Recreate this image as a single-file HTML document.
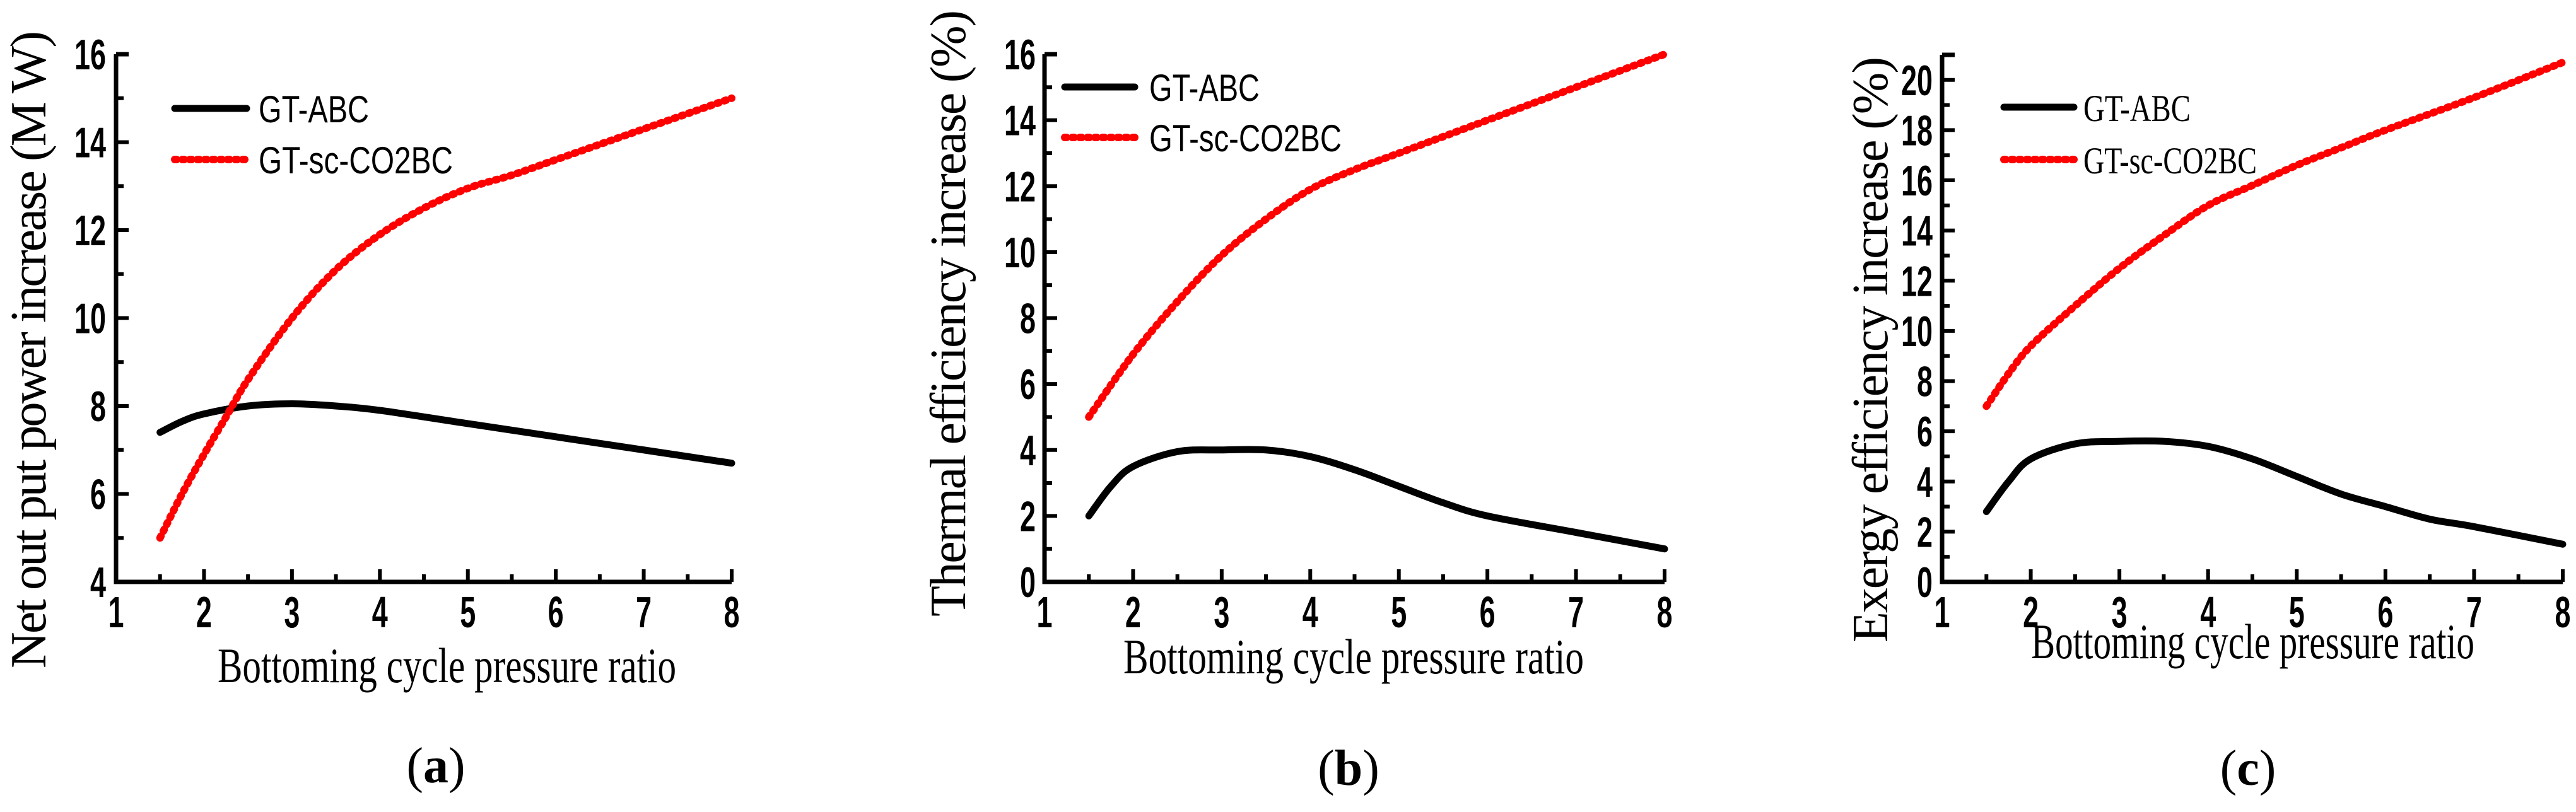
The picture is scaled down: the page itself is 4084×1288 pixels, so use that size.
<!DOCTYPE html>
<html><head><meta charset="utf-8"><style>
html,body{margin:0;padding:0;background:#fff;}
svg{display:block;}
</style></head><body>
<svg id="fig" width="4084" height="1288" viewBox="0 0 4084 1288" xmlns="http://www.w3.org/2000/svg"></svg>
<script>
// shared x data
const xA_abc = [1.5,1.75,2,2.5,3,3.5,4,5,6,7,8];
const yA_abc = [7.4,7.65,7.82,8.0,8.05,8.0,7.9,7.6,7.3,7.0,6.7];
const xA_co2 = [1.5,1.75,2,2.25,2.5,3,3.5,4,4.5,5,5.5,6,7,8];
const yA_co2 = [5.0,6.0,6.9,7.75,8.6,10.0,11.1,11.9,12.5,12.95,13.25,13.6,14.3,15.0];

const xB_abc = [1.5,1.75,2,2.5,3,3.5,4,4.5,5,5.5,6,7,8];
const yB_abc = [2.0,2.9,3.5,3.95,4.0,4.0,3.8,3.4,2.9,2.4,2.0,1.5,1.0];
const xB_co2 = [1.5,2,2.5,3,3.5,4,4.5,5,6,7,8];
const yB_co2 = [5.0,6.9,8.5,9.9,11.0,11.9,12.5,13.0,14.0,15.0,16.0];

const xC_abc = [1.5,1.75,2,2.5,3,3.5,4,4.5,5,5.5,6,6.5,7,8];
const yC_abc = [2.8,4.0,4.9,5.5,5.6,5.6,5.4,4.9,4.2,3.5,3.0,2.5,2.2,1.5];
const xC_co2 = [1.5,1.75,2,2.5,3,3.5,4,4.5,5,5.5,6,7,8];
const yC_co2 = [7.0,8.3,9.4,11.0,12.5,13.8,15.0,15.8,16.6,17.3,18.0,19.3,20.7];

const xTicks = [1,2,3,4,5,6,7,8];
const yTicksA = [4,6,8,10,12,14,16];
const yTicksB = [0,2,4,6,8,10,12,14,16];
const yTicksC = [0,2,4,6,8,10,12,14,16,18,20];

const NS = "http://www.w3.org/2000/svg";
const svg = document.getElementById('fig');
function mk(tag, attrs, parent){
  const e = document.createElementNS(NS, tag);
  for (const k in attrs) e.setAttribute(k, attrs[k]);
  (parent||svg).appendChild(e);
  return e;
}
function smoothPath(pts){
  let d = 'M'+pts[0][0]+','+pts[0][1];
  for (let i=0;i<pts.length-1;i++){
    const p0=pts[Math.max(0,i-1)], p1=pts[i], p2=pts[i+1], p3=pts[Math.min(pts.length-1,i+2)];
    const c1=[p1[0]+(p2[0]-p0[0])/6, p1[1]+(p2[1]-p0[1])/6];
    const c2=[p2[0]-(p3[0]-p1[0])/6, p2[1]-(p3[1]-p1[1])/6];
    d += ' C'+c1[0]+','+c1[1]+' '+c2[0]+','+c2[1]+' '+p2[0]+','+p2[1];
  }
  return d;
}

const panels = [
 {id:'a', x0:184, x1:1160, yBase:923, yMin:4, yMax:16, yTop:86, yTicks:yTicksA, labelRight:168,
  ytitle:'Net out put power increase (M W)', ytx:45, ytyA:49, ytyB:1060,
  xtitleX1:345, xtitleX2:1072, xtitleY:1082,
  legX1:272, legX2:396, legY1:172, legY2:253, legTx:410, legW1:175, legW2:308, legSerif:false,
  cap:'a', capX:691, capY:1241,
  series:[[xA_abc,yA_abc],[xA_co2,yA_co2]]},
 {id:'b', x0:1656, x1:2639, yBase:923, yMin:0, yMax:16, yTop:86, yTicks:yTicksB, labelRight:1642,
  ytitle:'Thermal efficiency increase (%)', ytx:1503, ytyA:16, ytyB:978,
  xtitleX1:1781, xtitleX2:2511, xtitleY:1068,
  legX1:1683, legX2:1804, legY1:138, legY2:218, legTx:1822, legW1:175, legW2:305, legSerif:false,
  cap:'b', capX:2138, capY:1245,
  series:[[xB_abc,yB_abc],[xB_co2,yB_co2]]},
 {id:'c', x0:3079, x1:4063, yBase:923, yMin:0, yMax:21, yTop:87, yTicks:yTicksC, labelRight:3064,
  ytitle:'Exergy efficiency increase (%)', ytx:2965, ytyA:90, ytyB:1019,
  xtitleX1:3220, xtitleX2:3923, xtitleY:1044,
  legX1:3172, legX2:3293, legY1:170, legY2:253, legTx:3303, legW1:170, legW2:275, legSerif:true,
  cap:'c', capX:3564, capY:1245,
  series:[[xC_abc,yC_abc],[xC_co2,yC_co2]]}
];

panels.forEach(p=>{
  const g = mk('g',{});
  
  
  const sx = v => p.x0 + (v-1)*(p.x1-p.x0)/7;
  const sy = v => p.yBase - (v-p.yMin)*(p.yBase-p.yTop)/(p.yMax-p.yMin);

  const ax = mk('path',{d:'M'+p.x0+','+p.yTop+' L'+p.x0+','+p.yBase+' L'+p.x1+','+p.yBase, fill:'none', stroke:'#000','stroke-width':7,'stroke-linejoin':'miter'}, g);
  
  
  mk('line',{x1:p.x0,y1:p.yTop,x2:p.x0+20,y2:p.yTop,stroke:'#000','stroke-width':7},g);
  for (let v=1.5; v<=8.001; v+=0.5){
    const major = Math.abs(v-Math.round(v))<1e-6;
    mk('line',{x1:sx(v),y1:p.yBase,x2:sx(v),y2:p.yBase-(major?20:12),stroke:'#000','stroke-width':6},g);
  }
  xTicks.forEach(v=>{
    const t = mk('text',{x:sx(v),y:995,'text-anchor':'middle','font-family':'Liberation Sans, sans-serif','font-weight':'bold','font-size':70,textLength:25,lengthAdjust:'spacingAndGlyphs'},g);
    t.textContent = v;
    
    
  });
  for (let v=p.yMin+1; v<=p.yMax; v+=1){
    const major = (v%2===0);
    mk('line',{x1:p.x0,y1:sy(v),x2:p.x0+(major?20:12),y2:sy(v),stroke:'#000','stroke-width':6},g);
  }
  p.yTicks.forEach(v=>{
    const s = String(v);
    const t = mk('text',{x:p.labelRight,y:sy(v)+24,'text-anchor':'end','font-family':'Liberation Sans, sans-serif','font-weight':'bold','font-size':68,textLength:25*s.length,lengthAdjust:'spacingAndGlyphs'},g);
    t.textContent = s;
    
    
  });
  const cy = (p.ytyA+p.ytyB)/2;
  const yt = mk('text',{x:0,y:0,transform:'translate('+(p.ytx+27)+','+cy+') rotate(-90)','text-anchor':'middle','font-family':'Liberation Serif, serif','font-size':80,textLength:(p.ytyB-p.ytyA),lengthAdjust:'spacing'},g);
  yt.textContent = p.ytitle;
  
  
  const xt = mk('text',{x:p.xtitleX1,y:p.xtitleY,'font-family':'Liberation Serif, serif','font-size':78,textLength:(p.xtitleX2-p.xtitleX1),lengthAdjust:'spacingAndGlyphs'},g);
  xt.textContent = 'Bottoming cycle pressure ratio';
  
  
  const cap = mk('text',{x:p.capX,y:p.capY,'text-anchor':'middle','font-family':'Liberation Serif, serif','font-size':80},g);
  cap.innerHTML = '(<tspan font-weight="bold">'+p.cap+'</tspan>)';
  
  

  const styles = [
    {stroke:'#000','stroke-width':11,fill:'none','stroke-linecap':'round'},
    {stroke:'#ff0000','stroke-width':12,fill:'none','stroke-linecap':'round','stroke-dasharray':'3 9'}
  ];
  p.series.forEach((s,i)=>{
    const pts = s[0].map((xv,k)=>[sx(xv), sy(s[1][k])]);
    const attrs = Object.assign({d:smoothPath(pts)}, styles[i]);
    const path = mk('path', attrs, g);
    
    
  });

  const fam = p.legSerif ? 'Liberation Serif, serif' : 'Liberation Sans, sans-serif';
  const l1 = mk('line',Object.assign({x1:p.legX1+5,y1:p.legY1,x2:p.legX2-5,y2:p.legY1},styles[0]),g);
  
  
  const l2 = mk('line',Object.assign({x1:p.legX1+5,y1:p.legY2,x2:p.legX2-5,y2:p.legY2},styles[1]),g);
  
  
  const t1 = mk('text',{x:p.legTx,y:p.legY1+22,'font-family':fam,'font-size':60,textLength:p.legW1,lengthAdjust:'spacingAndGlyphs'},g);
  t1.textContent = 'GT-ABC';
  
  
  const t2 = mk('text',{x:p.legTx,y:p.legY2+22,'font-family':fam,'font-size':60,textLength:p.legW2,lengthAdjust:'spacingAndGlyphs'},g);
  t2.textContent = 'GT-sc-CO2BC';
  
  
});
</script>
</body></html>
